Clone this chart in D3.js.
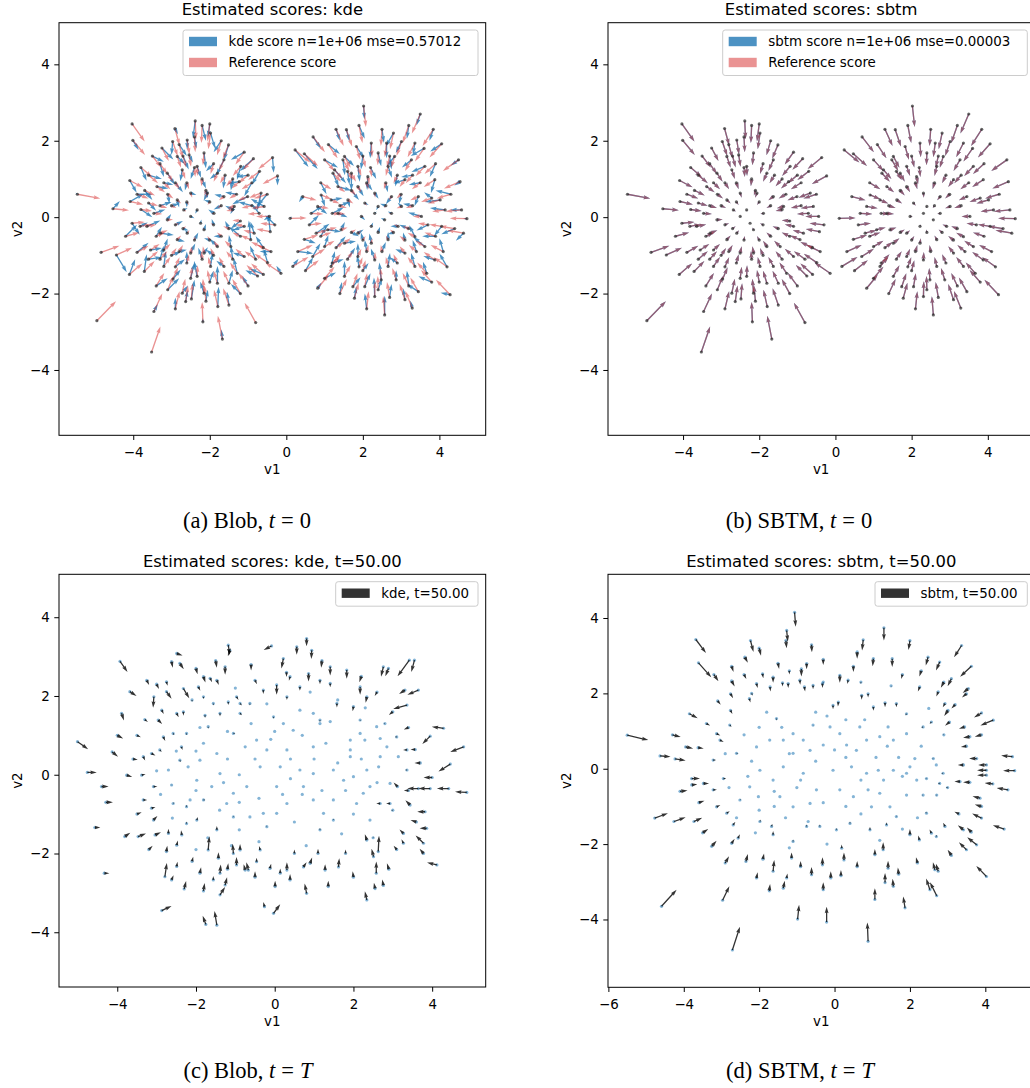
<!DOCTYPE html>
<html>
<head>
<meta charset="utf-8">
<script src="https://cdn.jsdelivr.net/npm/d3@7"></script>
<style>
  body { margin: 0; background: #fff; }
  svg { display: block; font-family: "DejaVu Sans", sans-serif; }
  .caption { font-family: "Liberation Serif", "Times New Roman", serif; font-size: 22.5px; }
</style>
</head>
<body>
<svg id="fig" width="1030" height="1088"></svg>
<script>
// ---- data ----
// t = 0 particles, two blobs. columns: x, y, reference score (u, v), kde score (u, v)
// scores are already in plotted units (quiver scale applied)
const blobLeft = [
  [-5.46,0.60,0.60,-0.11,-0.05,0.04],[-4.95,-2.71,0.50,0.51,0.02,0.02],[-3.52,-3.53,0.23,0.67,0.02,0.03],
  [-3.46,-2.47,0.22,0.47,0.10,0.20],[-2.18,-2.74,-0.02,0.52,0.0,0.10],[-1.67,-3.19,-0.12,0.61,-0.03,0.25],
  [-0.80,-2.76,-0.29,0.52,0.0,0.02],[-1.79,-2.34,-0.10,0.44,0.02,0.52],[-2.63,-2.21,0.06,0.42,0.05,0.30],
  [-2.48,-2.14,0.03,0.41,0.08,0.50],[-4.03,2.44,0.33,-0.46,0.05,-0.05],[-4.01,2.01,0.32,-0.38,0.15,-0.25],
  [-2.38,2.52,0.02,-0.48,-0.06,-0.45],[-2.00,2.44,-0.06,-0.46,-0.05,-0.35],[-2.91,2.32,0.12,-0.44,0.08,-0.15],
  [-1.51,1.89,-0.15,-0.36,-0.12,-0.40],[-0.36,1.56,-0.37,-0.30,0.03,-0.40],[-0.23,1.08,-0.39,-0.21,0.0,-0.25],
  [-0.86,1.53,-0.27,-0.29,-0.35,-0.32],[-4.09,0.96,0.34,-0.18,0.18,-0.32],[-4.53,0.22,0.42,-0.04,0.18,0.20],
  [-4.08,0.41,0.34,-0.08,0.35,0.20],[-4.84,-0.92,0.48,0.17,0.05,0.02],[-4.44,-0.99,0.41,0.19,0.27,-0.45],
  [-4.03,-0.16,0.33,0.03,0.20,-0.30],[-3.90,-0.92,0.30,0.17,0.30,0.25],[-3.71,-1.42,0.27,0.27,0.06,0.45],
  [-0.49,-1.19,-0.34,0.23,-0.10,0.35],[-0.14,-1.47,-0.41,0.28,-0.12,0.20],[-0.42,-0.38,-0.36,0.07,-0.05,0.45],
  [-0.75,-1.54,-0.29,0.29,-0.32,0.15],[-1.50,-1.73,-0.15,0.33,0.10,0.35],[-2.96,-1.62,0.13,0.31,0.20,0.25],
  [-3.25,1.81,0.18,-0.34,0.30,-0.30],[-2.97,1.98,0.13,-0.38,-0.03,-0.35],[-2.54,1.63,0.05,-0.31,0.10,-0.20],
  [-1.98,2.20,-0.06,-0.42,0.12,-0.40],[-1.23,0.93,-0.20,-0.18,-0.30,-0.05],[-0.66,0.63,-0.31,-0.12,-0.10,-0.45],
  [-0.71,0.10,-0.30,-0.02,-0.20,0.25],[-0.58,0.28,-0.33,-0.05,-0.35,0.20],[-0.44,0.02,-0.35,0.00,-0.15,-0.10],
  [-0.93,-0.59,-0.26,0.11,-0.05,0.50],[-1.10,-1.03,-0.23,0.20,-0.30,0.10],[-1.98,-1.29,-0.06,0.25,0.05,0.35],
  [-2.33,-1.55,0.01,0.29,-0.08,0.40],[-2.72,-1.99,0.08,0.38,0.15,0.20],[-3.20,-1.29,0.17,0.25,0.05,0.40],
  [-3.55,-0.86,0.24,0.16,0.30,0.05],[-3.64,-0.24,0.25,0.05,0.35,0.15],[-3.60,0.37,0.25,-0.07,0.20,-0.20],
  [-3.38,0.80,0.21,-0.15,0.30,-0.05],[-3.11,1.15,0.15,-0.22,0.20,-0.30],[-2.72,1.24,0.08,-0.24,-0.05,-0.30],
  [-2.33,1.33,0.01,-0.25,0.10,-0.30],[-1.80,1.15,-0.10,-0.22,-0.20,-0.15],[-1.63,0.54,-0.13,-0.10,-0.25,0.05],
  [-1.36,0.28,-0.18,-0.05,-0.10,-0.20],[-1.10,-0.24,-0.23,0.05,-0.30,-0.10],[-1.45,-0.77,-0.16,0.15,-0.05,0.30],
  [-2.15,-0.94,-0.03,0.18,0.10,0.15],[-2.85,-0.59,0.10,0.11,0.20,-0.05],[-3.11,-0.07,0.15,0.01,0.10,0.15],
  [-2.85,0.45,0.10,-0.09,0.05,-0.20],[-2.50,0.63,0.04,-0.12,0.15,-0.05],[-2.06,0.63,-0.05,-0.12,-0.10,-0.20],
  [-1.89,0.10,-0.08,-0.02,-0.15,0.10],[-2.15,-0.33,-0.03,0.06,0.05,0.15],[-2.59,-0.42,0.06,0.08,-0.05,0.10],
  [-2.50,0.02,0.04,0.00,0.10,-0.05],[-2.33,0.19,0.01,-0.04,-0.05,-0.10],[-2.68,0.19,0.07,-0.04,0.10,0.05],
  [-2.24,-0.16,-0.01,0.03,0.02,0.10],[-1.63,1.50,-0.13,-0.29,-0.20,-0.40],[-1.19,1.33,-0.21,-0.25,-0.10,-0.35],
  [-1.01,0.54,-0.25,-0.10,-0.40,-0.20],[-0.84,-0.42,-0.28,0.08,-0.10,0.30],[-1.63,-1.29,-0.13,0.25,-0.20,0.15],
  [-1.80,-1.73,-0.10,0.33,0.0,0.45],[-2.15,-1.99,-0.03,0.38,-0.10,0.30],[-3.29,-0.42,0.19,0.08,0.35,-0.05],
  [-3.46,0.10,0.22,-0.02,0.30,0.10],[-2.85,1.59,0.10,-0.30,0.20,-0.20],[-2.15,1.68,-0.03,-0.32,0.05,-0.40],
  [-2.59,2.02,0.06,-0.38,0.0,-0.25],[-3.82,-0.24,0.29,0.05,0.20,0.10],[-3.20,-0.86,0.17,0.16,0.10,0.30],
  [-2.50,-0.94,0.04,0.18,0.12,0.25],[-1.28,-1.47,-0.19,0.28,-0.10,0.40],[-1.80,-0.77,-0.10,0.15,-0.20,0.20],
  [-2.90,0.90,0.11,-0.17,0.20,-0.25],[-1.50,-0.30,-0.15,0.06,-0.10,0.20],[-3.00,-1.00,0.13,0.19,0.25,0.10],
  [-1.20,-0.50,-0.21,0.10,-0.30,0.25],[-2.70,1.60,0.08,-0.30,0.15,-0.35],[-1.40,1.00,-0.17,-0.19,-0.05,-0.30],
  [-3.40,-0.50,0.21,0.10,0.15,0.25],[-2.00,-1.70,-0.06,0.32,0.10,0.30],[-2.60,-1.20,0.06,0.23,0.0,0.30],
  [-3.60,1.10,0.25,-0.21,0.35,-0.10],[-0.90,0.90,-0.27,-0.17,-0.20,-0.35],[-1.10,1.70,-0.23,-0.32,-0.35,-0.20],
  [-3.30,1.40,0.19,-0.27,0.10,-0.35],[-2.20,-1.10,-0.02,0.21,-0.10,0.30],[-1.70,0.30,-0.11,-0.06,-0.20,-0.10],
  [-2.90,-0.20,0.11,0.04,0.20,0.10],[-0.60,-0.80,-0.32,0.15,-0.20,0.30],[-3.90,0.60,0.30,-0.11,0.40,0.0],
  [-2.40,2.10,0.02,-0.40,0.05,-0.30],[-1.00,-1.80,-0.25,0.34,-0.15,0.25],
  [-3.30,0.30,0.19,-0.06,0.30,0.10],[-3.10,0.60,0.15,-0.11,0.05,-0.25],[-2.80,1.90,0.10,-0.36,0.20,-0.30],
  [-2.20,1.00,-0.02,-0.19,0.10,-0.25],[-1.90,1.40,-0.08,-0.27,-0.20,-0.20],[-1.60,1.10,-0.13,-0.21,-0.05,-0.35],
  [-1.30,0.60,-0.19,-0.11,-0.30,0.05],[-1.20,-0.10,-0.21,0.02,-0.25,-0.20],[-1.40,-1.10,-0.17,0.21,-0.05,0.35],
  [-1.90,-1.00,-0.08,0.19,-0.20,0.15],[-2.40,-0.60,0.02,0.11,0.10,0.20],[-2.90,-1.30,0.11,0.25,0.25,0.20],
  [-3.30,-1.10,0.19,0.21,0.10,0.35],[-3.60,-1.10,0.25,0.21,0.35,0.05],[-3.80,0.20,0.29,-0.04,0.30,-0.20],
  [-3.20,0.90,0.17,-0.17,0.25,-0.05],[-2.00,0.40,-0.06,-0.08,-0.15,0.05],[-2.60,0.40,0.06,-0.08,0.0,-0.15],
  [-2.80,-0.90,0.10,0.17,0.20,0.05],[-2.10,-2.20,-0.04,0.42,0.05,0.30],[-2.90,-2.40,0.11,0.46,0.0,0.30],
  [-1.50,-2.30,-0.15,0.44,-0.05,0.35],[-1.20,-2.00,-0.21,0.38,-0.25,0.25],[-0.80,-1.10,-0.29,0.21,-0.15,0.35],
  [-0.40,-0.90,-0.36,0.17,-0.30,0.0],[-0.50,0.60,-0.34,-0.11,-0.25,-0.30],[-0.90,0.30,-0.27,-0.06,-0.35,0.10],
  [-0.70,1.20,-0.30,-0.23,-0.20,-0.35],[-1.70,2.00,-0.11,-0.38,-0.20,-0.30],[-2.20,2.40,-0.02,-0.46,0.10,-0.40],
  [-3.50,1.60,0.23,-0.30,0.30,-0.15],[-3.80,1.30,0.29,-0.25,0.15,-0.35],[-4.20,-0.50,0.36,0.10,0.30,0.30],
  [-4.10,-1.50,0.34,0.29,0.15,0.40],[-3.40,-1.80,0.21,0.34,0.30,0.20],[-2.50,-1.60,0.04,0.30,0.10,0.40],
  [-1.70,-0.50,-0.11,0.10,-0.20,0.0],[-1.90,-0.20,-0.08,0.04,-0.05,0.15],[-2.60,0.90,0.06,-0.17,-0.05,-0.20],
  [-3.00,0.30,0.13,-0.06,0.20,0.05],[-2.40,1.30,0.02,-0.25,-0.10,-0.30],[-1.00,1.10,-0.25,-0.21,-0.30,-0.05],
  [-0.30,-0.20,-0.38,0.04,-0.25,0.25],[-0.60,-1.50,-0.32,0.29,-0.35,0.15],[-3.10,-1.90,0.15,0.36,0.30,0.30],
  [-3.70,0.70,0.27,-0.13,0.20,-0.25],[-2.10,0.70,-0.04,-0.13,0.05,-0.20],[-1.40,0.20,-0.17,-0.04,-0.20,0.10],
  [-2.00,-0.60,-0.06,0.11,-0.15,0.05],[-2.70,-0.30,0.08,0.06,0.15,-0.05]
];
const blobRight = [
  [2.02,2.91,0.06,-0.55,0.02,-0.35],[1.57,2.29,0.15,-0.44,0.08,-0.30],[1.83,1.85,0.10,-0.35,0.20,-0.30],
  [3.84,2.30,-0.28,-0.44,-0.10,-0.30],[4.06,1.92,-0.32,-0.36,-0.30,-0.20],[4.54,0.93,-0.42,-0.18,-0.15,-0.10],
  [4.58,0.19,-0.42,-0.04,-0.30,0.0],[4.72,-0.04,-0.45,0.01,-0.10,0.0],[4.63,-0.42,-0.43,0.08,-0.20,-0.20],
  [4.10,-0.90,-0.33,0.17,-0.10,0.35],[4.28,-2.03,-0.37,0.39,-0.25,0.05],[3.29,-2.38,-0.18,0.45,-0.05,0.20],
  [2.57,-2.56,-0.04,0.49,0.0,0.50],[1.78,-2.12,0.11,0.40,0.05,0.30],[0.82,-1.86,0.29,0.35,0.10,0.15],
  [0.17,-1.29,0.41,0.25,0.15,0.20],[0.10,-0.03,0.43,0.01,0.05,0.05],[0.47,-0.58,0.36,0.11,0.30,-0.10],
  [0.69,-1.03,0.32,0.20,0.20,0.35],[0.23,1.76,0.40,-0.33,0.35,-0.45],[0.47,1.66,0.36,-0.32,0.35,-0.40],
  [0.91,0.58,0.27,-0.11,0.10,-0.30],[0.43,0.54,0.36,-0.10,-0.10,-0.15],[1.26,1.24,0.21,-0.24,0.30,-0.35],
  [3.36,1.94,-0.19,-0.37,-0.05,-0.30],[3.01,1.98,-0.13,-0.38,-0.15,-0.30],[2.62,1.94,-0.05,-0.37,0.0,-0.40],
  [2.22,1.94,0.02,-0.37,-0.03,-0.40],[1.48,1.50,0.17,-0.29,0.05,-0.40],[3.62,1.33,-0.24,-0.25,-0.35,-0.15],
  [3.88,0.98,-0.29,-0.19,-0.10,-0.35],[4.02,0.45,-0.32,-0.09,-0.40,-0.05],[4.06,-0.24,-0.32,0.05,-0.20,-0.25],
  [3.88,-1.12,-0.29,0.21,-0.30,0.10],[3.67,-1.47,-0.25,0.28,-0.10,0.30],[3.45,-1.95,-0.21,0.37,-0.30,0.20],
  [3.10,-2.16,-0.14,0.41,-0.05,0.30],[2.31,-2.08,0.01,0.40,-0.02,0.50],[2.05,-1.82,0.06,0.35,0.15,0.35],
  [1.52,-1.55,0.16,0.29,0.0,0.40],[1.17,-1.29,0.22,0.25,0.10,0.40],[0.78,-0.42,0.30,0.08,0.35,0.25],
  [0.65,0.10,0.32,-0.02,0.30,0.20],[0.82,0.28,0.29,-0.05,0.25,-0.20],[1.35,0.80,0.19,-0.15,0.35,-0.10],
  [1.70,1.15,0.12,-0.22,0.0,-0.45],[2.13,1.06,0.04,-0.20,-0.02,-0.35],[2.66,1.33,-0.06,-0.25,0.10,-0.30],
  [3.10,0.98,-0.14,-0.19,-0.30,-0.10],[3.45,0.54,-0.21,-0.10,-0.10,-0.25],[3.53,0.02,-0.22,0.00,-0.35,0.10],
  [3.36,-0.51,-0.19,0.10,-0.15,0.30],[3.10,-0.94,-0.14,0.18,-0.25,0.10],[2.66,-1.29,-0.06,0.25,0.05,0.35],
  [2.31,-1.12,0.01,0.21,-0.10,0.30],[1.87,-1.03,0.09,0.20,0.0,0.35],[1.52,-0.68,0.16,0.13,0.30,0.05],
  [1.43,-0.33,0.17,0.06,0.10,0.20],[1.35,0.10,0.19,-0.02,0.25,-0.10],[1.61,0.45,0.14,-0.09,0.05,-0.20],
  [1.87,0.80,0.09,-0.15,0.15,-0.25],[2.31,0.63,0.01,-0.12,0.10,-0.15],[2.75,0.54,-0.08,-0.10,-0.15,-0.20],
  [3.01,0.28,-0.13,-0.05,-0.10,0.10],[2.92,-0.24,-0.11,0.05,-0.20,0.0],[2.66,-0.59,-0.06,0.11,0.0,0.20],
  [2.22,-0.68,0.02,0.13,-0.05,0.25],[1.87,-0.42,0.09,0.08,0.15,0.10],[1.96,0.02,0.07,0.00,0.10,-0.10],
  [2.31,0.10,0.01,-0.02,0.05,0.05],[2.57,-0.07,-0.04,0.01,-0.10,0.05],[2.22,-0.24,0.02,0.05,0.05,0.10],
  [2.40,0.28,-0.01,-0.05,-0.05,-0.10],[2.75,0.10,-0.08,-0.02,-0.10,0.05],[2.05,0.37,0.06,-0.07,0.10,-0.05],
  [1.52,1.59,0.16,-0.30,0.25,-0.25],[1.22,1.15,0.21,-0.22,0.15,-0.35],[2.40,1.68,-0.01,-0.32,0.08,-0.35],
  [2.83,1.59,-0.09,-0.30,-0.20,-0.25],[1.00,-0.77,0.26,0.15,0.10,0.30],[1.08,-0.33,0.24,0.06,0.35,-0.05],
  [3.36,-1.29,-0.19,0.25,-0.10,0.35],[1.74,-1.82,0.12,0.35,0.20,0.25],[2.48,-1.64,-0.02,0.31,-0.05,0.45],
  [2.87,-1.64,-0.10,0.31,0.0,0.25],[3.62,-0.77,-0.24,0.15,-0.30,0.25],[4.15,0.19,-0.34,-0.04,-0.40,0.05],
  [3.27,1.50,-0.17,-0.29,-0.25,-0.20],[1.87,1.33,0.09,-0.25,0.05,-0.40],[1.17,0.45,0.22,-0.09,0.30,0.05],
  [1.60,-1.10,0.14,0.21,0.20,0.30],[2.90,1.10,-0.10,-0.21,-0.05,-0.30],[3.20,-0.30,-0.16,0.06,-0.25,0.10],
  [1.30,-0.80,0.20,0.15,0.25,0.30],[2.60,0.90,-0.05,-0.17,0.05,-0.25],[2.00,-1.40,0.07,0.27,0.15,0.20],
  [3.90,-0.50,-0.29,0.10,-0.35,0.0],[1.10,1.90,0.24,-0.36,0.30,-0.25],[2.10,-0.90,0.05,0.17,-0.05,0.30],
  [3.50,0.90,-0.22,-0.17,-0.30,-0.05],
  [1.40,0.30,0.18,-0.06,0.25,0.10],[1.70,0.70,0.12,-0.13,0.20,-0.25],[2.00,1.60,0.07,-0.30,-0.05,-0.35],
  [2.50,2.30,-0.03,-0.44,0.05,-0.35],[3.20,2.40,-0.16,-0.46,-0.05,-0.35],[3.60,1.80,-0.24,-0.34,-0.35,-0.20],
  [3.90,1.40,-0.29,-0.27,-0.15,-0.35],[4.30,0.60,-0.37,-0.11,-0.40,0.10],[4.40,-0.30,-0.39,0.06,-0.35,-0.15],
  [4.20,-1.30,-0.35,0.25,-0.20,0.35],[3.80,-1.70,-0.28,0.32,-0.35,0.15],[3.20,-1.80,-0.16,0.34,-0.05,0.40],
  [2.70,-2.10,-0.07,0.40,0.05,0.35],[2.10,-2.40,0.05,0.46,-0.05,0.40],[1.40,-2.00,0.18,0.38,0.05,0.30],
  [1.00,-1.60,0.26,0.30,0.30,0.15],[0.50,-1.40,0.35,0.27,0.20,0.35],[0.30,-0.90,0.39,0.17,0.40,-0.05],
  [0.60,-0.20,0.33,0.04,0.25,0.25],[0.90,0.90,0.28,-0.17,0.15,-0.30],[1.00,1.50,0.26,-0.29,0.35,-0.20],
  [0.70,2.10,0.31,-0.40,0.20,-0.30],[1.90,2.40,0.09,-0.46,0.15,-0.35],[2.80,2.20,-0.09,-0.42,-0.20,-0.35],
  [3.30,1.10,-0.18,-0.21,-0.30,-0.05],[3.00,0.60,-0.12,-0.11,-0.05,-0.25],[2.60,0.30,-0.05,-0.06,-0.15,0.05],
  [2.10,0.90,0.05,-0.17,0.15,-0.20],[1.60,1.20,0.14,-0.23,0.05,-0.35],[1.20,0.10,0.22,-0.02,0.30,0.15],
  [1.70,-0.40,0.12,0.08,0.20,-0.10],[2.00,-0.60,0.07,0.11,-0.05,0.20],[2.50,-0.90,-0.03,0.17,0.10,0.25],
  [2.90,-1.20,-0.10,0.23,-0.20,0.15],[3.40,-0.90,-0.20,0.17,-0.10,0.30],[3.70,-0.20,-0.26,0.04,-0.30,-0.15],
  [3.80,0.50,-0.28,-0.10,-0.20,0.15],[2.40,-1.90,-0.01,0.36,0.10,0.30],[1.90,-1.30,0.09,0.25,-0.05,0.30],
  [1.20,-1.20,0.22,0.23,0.30,0.10],[0.90,-0.50,0.28,0.10,0.15,0.25],[2.80,-0.40,-0.09,0.08,-0.15,-0.05],
  [3.10,-0.60,-0.14,0.11,-0.05,0.20],[3.30,0.30,-0.18,-0.06,-0.25,0.05],[2.20,1.30,0.03,-0.25,0.15,-0.30],
  [2.70,1.60,-0.07,-0.30,0.05,-0.35],[1.30,2.30,0.20,-0.44,0.10,-0.30],[4.50,1.50,-0.41,-0.29,-0.20,-0.15],
  [3.50,2.70,-0.22,-0.51,-0.10,-0.30],[2.40,-0.40,-0.01,0.08,0.05,0.15]
];
// t = 50 particles. columns: x, y, score (u, v)
const kdeT50 = [
  [-5.01,0.84,0.27,-0.19],[-4.76,0.06,0.24,0.0],[-4.57,-1.34,0.14,0.0],[-4.33,-2.50,0.13,0.0],[-4.29,-0.70,0.18,0.0],
  [-4.13,0.58,0.15,-0.12],[-3.93,2.88,0.19,-0.27],[-3.68,2.11,0.17,-0.11],[-3.89,1.56,0.06,-0.18],[-3.76,-0.01,0.14,-0.05],
  [-3.81,-1.57,0.14,0.10],[-3.47,-1.57,0.20,0.08],[-2.87,-3.45,0.25,0.12],[-2.49,3.08,0.15,-0.05],[-2.62,2.87,0.03,-0.15],
  [-3.25,2.40,0.06,-0.12],[-2.75,2.36,0.03,-0.10],[-2.32,2.19,0.15,-0.25],[-2.75,2.11,0.13,-0.18],[-3.07,1.98,-0.02,-0.28],
  [-2.41,2.83,0.10,-0.15],[-1.81,-2.95,0.03,0.20],[-1.47,-3.82,-0.06,0.36],[-1.75,-3.80,-0.08,0.22],[-1.39,-3.05,0.13,0.20],
  [-1.26,-2.80,0.05,0.20],[-0.03,-3.52,0.17,0.23],[-0.26,-3.35,-0.03,0.12],[-1.18,3.29,0.04,-0.25],[-1.14,3.16,-0.05,-0.15],
  [-0.08,3.27,-0.20,-0.10],[0.56,3.25,0.0,-0.20],[0.81,3.46,0.0,-0.20],[0.94,3.16,-0.01,-0.22],[0.22,2.95,-0.05,-0.25],
  [1.41,2.74,0.0,-0.22],[1.83,2.66,0.0,-0.22],[2.76,2.74,-0.06,-0.25],[2.89,2.70,-0.08,-0.20],[3.42,2.91,-0.30,-0.41],
  [3.55,2.91,-0.08,-0.30],[3.65,2.15,-0.28,-0.12],[3.31,2.15,-0.15,-0.10],[3.36,1.77,-0.35,-0.10],[4.29,1.18,-0.30,0.04],
  [3.95,0.98,-0.20,-0.20],[4.80,0.71,-0.34,-0.13],[4.46,0.27,-0.30,-0.19],[4.00,-0.07,-0.22,0.0],[4.88,-0.45,-0.30,0.02],
  [4.42,-0.35,-0.30,0.0],[3.95,-0.35,-0.30,0.0],[3.65,-0.35,-0.28,0.0],[3.82,-0.94,-0.20,0.0],[3.86,-1.36,-0.18,0.0],
  [3.78,-1.74,-0.20,0.20],[3.78,-2.00,-0.10,0.12],[4.12,-2.29,-0.25,0.06],[3.27,-1.74,-0.05,0.10],[3.27,-1.49,-0.10,0.10],
  [3.44,-0.77,-0.12,0.12],[3.12,-0.30,-0.10,0.10],[2.34,-3.18,-0.05,0.22],[2.55,-2.89,-0.03,0.15],[2.76,-2.81,-0.03,0.15],
  [2.58,-2.50,0.0,0.30],[2.51,-2.08,-0.05,0.20],[2.63,-1.95,0.02,0.40],[2.34,-1.66,-0.05,0.15],[1.62,-2.34,0.02,0.22],
  [1.36,-2.84,0.0,0.15],[0.81,-3.01,-0.05,0.25],[1.28,-2.42,0.0,0.15],[0.73,-2.34,0.08,0.12],[0.90,-2.25,0.05,0.15],
  [0.39,-2.67,0.0,0.15],[0.14,-2.50,0.0,0.12],[0.31,-2.42,0.0,0.20],[0.01,-2.84,0.0,0.15],[-0.12,-2.38,0.03,0.12],
  [-0.67,-2.42,-0.05,0.20],[-0.75,-2.42,-0.04,0.15],[-0.97,-2.29,0.0,0.20],[-0.88,-1.91,0.0,0.15],[-1.05,-2.00,-0.02,0.25],
  [-0.46,-2.21,0.0,0.10],[-0.37,-1.91,-0.03,0.10],[-1.43,-2.12,0.0,0.15],[-1.69,-1.91,0.03,0.35],[-1.90,-2.50,0.03,0.15],
  [-1.56,-2.67,0.0,0.10],[-1.39,-2.50,0.02,0.22],[-2.62,-2.67,0.05,0.12],[-2.79,-2.59,0.05,0.35],[-2.49,-2.33,0.02,0.12],
  [-2.75,-1.95,0.02,0.15],[-2.70,-1.49,0.0,0.12],[-2.36,-1.53,-0.02,0.12],[-2.49,-1.79,0.03,0.12],[-3.04,-1.53,0.15,0.07],
  [-3.08,-1.15,0.10,0.10],[-3.13,-0.85,0.10,0.03],[-3.08,-0.30,0.10,0.0],[-3.34,-0.64,0.10,0.0],[-3.38,-0.01,0.10,0.03],
  [-3.13,0.54,0.10,-0.05],[-3.34,0.46,0.05,-0.10],[-2.92,0.63,0.05,-0.05],[-2.83,0.96,0.05,-0.10],[-2.96,1.39,0.10,-0.10],
  [-2.87,1.64,0.05,-0.10],[-2.49,1.56,0.05,-0.10],[-2.24,1.05,0.0,-0.05],[-2.58,1.05,0.03,-0.05],[-2.37,0.71,0.03,-0.08],
  [-2.41,0.37,0.02,-0.05],[-2.70,0.12,0.0,0.0],[-2.62,-0.26,0.02,0.0],[-2.58,-0.73,0.03,0.03],[-2.24,-0.81,0.0,0.05],
  [-2.24,-1.24,0.0,0.05],[-1.98,-1.15,0.03,0.08],[-1.81,-0.64,0.05,0.0],[-1.98,-0.14,0.0,0.0],[-1.90,0.37,0.0,0.0],
  [-1.81,0.80,0.0,0.0],[-1.69,1.22,0.0,-0.05],[-1.77,1.51,0.0,-0.07],[-1.56,1.81,0.0,-0.05],[-1.81,1.98,0.0,-0.06],
  [-1.39,1.56,0.0,-0.08],[-1.05,1.05,0.05,0.0],[-0.88,1.56,0.05,-0.05],[-0.63,1.81,0.0,-0.05],[-0.97,1.98,0.05,-0.08],
  [-0.75,0.71,0.0,0.0],[-0.46,0.88,0.0,0.0],[-0.20,0.63,0.0,0.0],[-0.37,0.20,0.0,0.0],[-0.71,-0.30,0.0,0.0],
  [-1.05,-0.47,0.0,0.0],[-1.39,0.03,0.0,0.0],[-1.47,0.54,0.0,0.0],[-1.22,-0.73,0.0,0.0],[-1.05,-1.07,0.0,0.03],
  [-0.63,-1.07,0.0,0.0],[-0.29,-0.98,0.0,0.0],[-0.20,-1.32,0.0,0.03],[0.05,-0.98,0.0,0.0],[0.31,-0.73,0.0,0.0],
  [0.05,-0.30,0.0,0.0],[0.14,0.20,0.0,0.0],[0.31,0.63,0.0,0.0],[0.47,1.13,0.0,0.0],[0.22,1.30,0.0,0.0],
  [-0.03,1.47,0.0,-0.05],[0.31,1.98,0.0,-0.08],[0.64,1.64,0.0,0.0],[0.98,1.56,0.0,0.0],[1.15,1.30,0.0,0.0],
  [1.41,1.35,0.0,0.0],[0.98,0.71,0.0,0.0],[0.64,0.12,0.0,0.0],[0.98,0.03,0.0,0.0],[0.73,-0.30,0.0,0.0],
  [0.98,-0.64,0.0,0.0],[1.24,-0.98,0.0,0.0],[1.49,-1.15,0.0,0.03],[1.15,-1.40,0.0,0.05],[1.49,-0.64,0.0,0.0],
  [1.75,-0.14,0.0,0.0],[2.00,-0.05,0.0,0.0],[1.49,0.12,0.0,0.0],[1.92,0.63,0.0,0.0],[1.92,0.88,0.0,0.0],
  [2.17,1.05,0.0,0.0],[2.29,0.88,0.0,0.0],[2.17,1.39,0.0,-0.03],[2.59,1.22,0.0,0.0],[2.68,0.92,0.0,0.0],
  [2.85,0.71,0.0,0.0],[2.64,0.20,0.0,0.0],[2.34,0.12,0.0,0.0],[2.42,-0.30,0.0,0.0],[2.25,-0.47,0.0,0.0],
  [2.08,-0.73,0.0,0.0],[2.42,-1.15,0.0,0.0],[2.68,-0.73,-0.10,0.0],[2.93,-0.73,-0.10,0.0],[2.93,-0.22,0.0,0.0],
  [3.14,0.46,0.0,0.0],[3.36,0.63,-0.10,0.0],[3.57,0.64,-0.12,0.0],[3.10,0.96,-0.05,0.0],[2.68,0.46,0.0,0.0],
  [3.36,0.12,-0.05,0.0],[1.92,0.46,0.0,0.0],[2.17,2.23,0.0,-0.20],[2.34,1.98,-0.03,-0.15],[2.00,1.73,-0.02,-0.12],
  [1.58,1.81,0.0,-0.10],[1.15,1.39,0.0,-0.05],[1.41,2.32,0.0,-0.10],[1.15,2.40,0.0,-0.10],[0.86,2.57,0.0,-0.20],
  [0.64,2.23,0.0,-0.10],[0.39,2.49,-0.03,-0.10],[0.05,2.28,0.0,-0.25],[-0.29,2.15,0.0,-0.10],[-0.50,2.40,0.05,-0.10],
  [-0.88,1.81,0.05,-0.05],[-1.18,1.85,0.0,-0.08],[-1.26,2.74,0.0,-0.20],[-1.47,2.40,0.05,-0.12],[-1.64,2.45,0.05,-0.10],
  [-1.81,2.49,0.05,-0.15],[-1.94,2.23,0.05,-0.10],[-2.32,1.60,0.0,-0.10],[-2.15,-0.64,0.0,0.0],[-1.47,-1.40,0.0,0.10],
  [-3.50,1.00,0.10,-0.05],[-3.30,1.40,0.08,-0.06],[-3.00,2.30,0.06,-0.12],[-2.00,2.70,0.04,-0.15],[-1.50,2.90,0.03,-0.18],
  [-0.60,2.80,0.0,-0.15],[0.30,2.60,0.0,-0.12],[1.20,2.90,-0.02,-0.18],[2.20,2.50,-0.05,-0.15],[2.60,2.10,-0.06,-0.10],
  [3.00,1.60,-0.10,-0.08],[3.40,1.20,-0.12,-0.05],[3.70,0.30,-0.15,0.0],[3.40,-0.40,-0.12,0.0],[3.60,-1.20,-0.15,0.05],
  [3.10,-1.90,-0.08,0.10],[2.90,-2.40,-0.05,0.15],[2.00,-2.60,-0.02,0.15],[1.80,-2.00,0.0,0.10],[1.10,-2.00,0.0,0.12],
  [0.50,-2.00,0.0,0.10],[-0.50,-2.60,0.0,0.15],[-1.20,-2.40,0.02,0.15],[-2.10,-2.20,0.03,0.12],[-2.30,-2.90,0.05,0.20],
  [-3.20,-1.90,0.10,0.10],[-3.50,-1.00,0.12,0.05],[-3.60,0.40,0.12,-0.02],[-4.00,1.00,0.15,-0.08],[-4.40,-0.30,0.18,0.0],
  [-2.20,0.20,0,0],[-2.00,0.60,0,0],[-1.60,-0.30,0,0],[-1.20,0.40,0,0],[-0.90,0.00,0,0],[-0.50,0.40,0,0],
  [-0.10,0.90,0,0],[0.40,0.40,0,0],[0.70,-0.50,0,0],[0.20,-0.50,0,0],[-0.40,-0.60,0,0],[-0.90,-0.70,0,0],
  [-1.40,-0.90,0,0],[-1.70,-1.60,0,0],[-0.90,-1.40,0,0],[0.50,-1.20,0,0],[1.20,-0.40,0,0],[1.60,0.30,0,0],
  [1.30,0.80,0,0],[0.70,1.00,0,0],[0.00,1.10,0,0],[-0.60,1.30,0,0],[-1.20,1.10,0,0],[-1.90,1.20,0,0],
  [-2.50,0.60,0,0],[-2.00,-0.40,0,0],[-1.30,-0.20,0,0],[0.40,-0.10,0,0],[1.00,0.40,0,0],[1.80,-0.40,0,0],
  [2.20,0.40,0,0],[2.60,-0.20,0,0],[2.00,-1.00,0,0],[1.70,-1.50,0,0],[0.80,-1.80,0,0],[-0.40,-1.70,0,0],
  [-1.10,-1.80,0,0],[-2.00,-1.90,0,0],[-2.60,-1.10,0,0],[-2.90,-0.50,0,0],[-3.00,0.10,0,0],[2.30,1.70,0,0],
  [1.60,1.90,0,0],[0.90,2.10,0,0],[-0.20,1.80,0,0],[-1.00,2.20,0,0],[2.80,1.30,-0.03,0],[3.00,-0.90,-0.04,0],
  [2.50,-1.60,0,0.03],[-2.10,1.90,0,-0.05]
];
const sbtmT50 = [
  [-5.50,0.89,0.56,-0.13],[-4.59,-3.65,0.40,0.44],[-2.71,-4.81,0.20,0.62],[-2.97,-3.49,0.18,0.37],[-0.98,-3.99,0.04,0.38],
  [-0.21,-4.07,0.0,0.41],[0.89,-4.58,-0.02,0.50],[1.07,-3.47,0.0,0.30],[1.87,-3.69,-0.05,0.30],[2.71,-3.37,-0.18,0.36],
  [2.53,-3.21,-0.10,0.30],[4.03,-2.86,-0.27,0.28],[3.50,-2.15,-0.20,0.20],[3.77,-2.02,-0.25,0.20],[3.90,-1.31,-0.25,0.12],
  [4.60,-0.56,-0.30,0.05],[4.78,-0.05,-0.31,0.0],[4.72,0.32,-0.30,0.03],[4.21,1.29,-0.34,-0.14],[3.90,1.48,-0.20,-0.12],
  [3.63,2.72,-0.30,-0.28],[3.37,3.27,-0.20,-0.31],[3.55,2.13,-0.15,-0.12],[2.79,2.83,-0.10,-0.22],[2.48,2.96,-0.06,-0.22],
  [1.53,2.92,0.0,-0.22],[1.31,3.74,0.0,-0.34],[0.76,3.42,-0.03,-0.28],[0.50,2.72,0.0,-0.15],[1.03,2.92,-0.02,-0.20],
  [-1.06,4.15,0.03,-0.38],[-1.27,3.67,0.03,-0.30],[-1.29,3.40,0.02,-0.20],[-0.61,3.29,0.01,-0.20],[-2.23,3.40,0.08,-0.30],
  [-3.68,3.43,0.27,-0.36],[-3.61,2.81,0.34,-0.38],[-3.85,1.46,0.22,-0.12],[-3.95,0.58,0.20,-0.04],[-3.62,0.56,0.15,-0.02],
  [-4.63,0.34,0.28,-0.02],[-4.23,0.26,0.28,-0.04],[-4.77,-1.31,0.35,0.13],[-4.26,-1.40,0.31,0.11],[-3.73,-1.40,0.22,0.10],
  [-3.79,-0.26,0.22,0.0],[-3.79,-0.43,0.15,0.02],[-3.48,-0.39,0.15,0.0],[-3.26,-2.06,0.13,0.15],[-2.73,-1.98,0.08,0.12],
  [-2.35,-2.46,0.05,0.20],[-2.07,-2.90,0.03,0.15],[-1.73,-3.24,0.02,0.18],[-1.36,-3.17,0.04,0.20],[-1.27,-2.90,0.02,0.12],
  [-1.63,-2.72,0.03,0.30],[-1.14,-2.37,0.0,0.15],[-0.61,-2.81,0.0,0.20],[-0.30,-3.21,0.0,0.20],[-0.32,-2.55,0.0,0.20],
  [0.17,-2.84,0.0,0.15],[0.25,-2.42,0.0,0.20],[0.19,-2.11,0.0,0.10],[1.34,-3.02,0.0,0.25],[1.56,-3.12,-0.02,0.20],
  [1.42,-2.64,0.0,0.20],[1.07,-2.28,0.0,0.15],[1.29,-2.15,0.0,0.20],[2.75,-2.72,-0.06,0.20],[2.66,-2.68,-0.05,0.20],
  [2.25,-1.89,-0.03,0.12],[2.00,-1.75,0.0,0.15],[2.57,-1.71,-0.05,0.10],[2.93,-1.53,-0.05,0.10],[3.42,-1.62,-0.15,0.12],
  [3.63,-1.68,-0.12,0.12],[3.86,-0.78,-0.20,0.05],[3.59,-0.36,-0.18,0.0],[4.03,-0.17,-0.25,0.0],[4.03,-0.04,-0.25,0.0],
  [4.03,0.10,-0.22,0.0],[3.77,0.27,-0.20,0.0],[3.42,0.10,-0.15,0.0],[3.33,-0.34,-0.15,0.0],[3.50,0.60,-0.15,-0.02],
  [3.59,0.85,-0.18,-0.03],[3.45,1.11,-0.15,-0.05],[3.05,1.24,-0.12,-0.10],[3.01,1.55,-0.10,-0.15],[2.93,1.73,-0.06,-0.10],
  [2.57,1.24,-0.05,-0.05],[2.35,1.11,-0.05,-0.02],[2.26,2.17,-0.05,-0.12],[2.75,2.04,-0.05,-0.12],[3.10,2.39,-0.10,-0.20],
  [3.50,1.99,-0.12,-0.10],[1.91,1.46,-0.03,-0.05],[1.64,1.73,0.0,-0.10],[1.34,1.75,0.0,-0.12],[1.03,1.64,0.0,-0.10],
  [0.89,1.99,0.0,-0.10],[0.72,1.95,0.0,-0.12],[0.14,2.48,0.0,-0.20],[0.36,2.35,-0.02,-0.10],[-0.04,1.68,0.0,-0.10],
  [0.10,1.77,-0.01,-0.12],[-0.32,2.26,0.0,-0.12],[-0.57,2.21,0.0,-0.10],[-0.80,2.17,0.02,-0.12],[-0.92,2.35,0.01,-0.12],
  [-0.88,2.65,0.0,-0.20],[-0.74,2.79,0.0,-0.15],[-1.23,2.26,0.0,-0.12],[-1.38,2.28,0.0,-0.10],[-1.63,2.43,0.0,-0.15],
  [-1.71,2.17,0.01,-0.12],[-1.91,2.52,0.02,-0.12],[-2.07,2.26,0.03,-0.12],[-2.26,1.86,0.03,-0.10],[-2.38,2.96,0.08,-0.15],
  [-2.73,2.72,0.05,-0.15],[-2.73,2.33,0.08,-0.15],[-2.76,1.99,0.07,-0.12],[-2.76,1.55,0.05,-0.10],[-2.78,1.16,0.05,-0.05],
  [-3.13,0.93,0.10,-0.05],[-3.04,0.76,0.10,-0.05],[-3.22,0.23,0.08,0.0],[-2.95,-0.26,0.08,0.0],[-3.22,-0.56,0.10,0.0],
  [-3.13,-1.01,0.10,0.05],[-2.86,-1.18,0.08,0.05],[-2.69,-1.49,0.06,0.08],[-2.56,-1.84,0.05,0.10],[-1.98,-1.40,0.02,0.05],
  [-1.67,-1.53,0.02,0.07],[-1.63,-1.75,0.0,0.10],[-1.10,-1.93,0.0,0.05],[-0.74,-1.53,0.0,0.05],[-0.39,-1.53,0.0,0.05],
  [0.05,-1.62,0.0,0.05],[0.41,-1.45,0.0,0.05],[0.94,-1.62,0.0,0.08],[1.38,-1.49,0.0,0.07],[1.64,-1.27,0.0,0.03],
  [1.91,-0.70,0.0,0.0],[2.35,-0.70,-0.03,0.0],[2.71,-0.70,-0.03,0.0],[2.44,-0.26,-0.03,0.0],[2.62,0.27,-0.03,0.0],
  [2.13,0.27,0.0,0.0],[2.00,0.05,0.0,0.0],[1.56,-0.04,0.0,0.0],[1.16,-0.04,0.0,0.0],[0.85,-0.12,0.0,0.0],
  [0.89,-0.56,0.0,0.0],[1.20,-0.65,0.0,0.0],[1.47,-1.01,0.0,0.0],[0.98,-1.01,0.0,0.0],[0.50,-0.74,0.0,0.0],
  [0.14,-0.56,0.0,0.0],[-0.04,-0.04,0.0,0.0],[0.45,0.05,0.0,0.0],[0.58,0.49,0.0,0.0],[0.32,0.63,0.0,0.0],
  [0.14,0.93,0.0,0.0],[-0.12,1.11,0.0,0.0],[-0.30,0.63,0.0,0.0],[-0.65,0.49,0.0,0.0],[-0.83,0.76,0.0,0.0],
  [-1.10,0.93,0.0,0.0],[-1.10,0.41,0.0,0.0],[-1.36,0.05,0.0,0.0],[-1.63,-0.30,0.0,0.0],[-1.45,-0.74,0.0,0.0],
  [-1.10,-1.01,0.0,0.0],[-0.65,-0.92,0.0,0.0],[-0.48,-0.56,0.0,0.0],[-0.83,-0.12,0.0,0.0],[-1.98,-0.04,0.0,0.0],
  [-2.07,0.58,0.0,0.0],[-1.72,0.76,0.0,0.0],[-2.25,-0.48,0.0,0.0],[-2.51,-0.83,0.03,0.02],[-2.02,-0.74,0.0,0.0],
  [-1.54,1.33,0.0,-0.05],[-0.57,1.16,0.0,-0.02],[1.42,1.11,0.0,0.0],[1.20,0.85,0.0,0.0],[1.56,0.76,0.0,0.0],
  [1.91,0.93,0.0,0.0],[2.18,-0.30,0.0,0.0],[2.88,-0.12,-0.05,0.0],[2.79,-0.39,-0.05,0.0],[2.44,-1.18,-0.03,0.03],
  [1.91,-0.12,0.0,0.0],[0.85,0.76,0.0,0.0],[0.67,1.11,0.0,0.0],[-1.36,0.76,0.0,0.0],[-2.60,0.41,0.05,0.0],
  [-3.40,1.20,0.10,-0.05],[-3.10,1.80,0.08,-0.10],[-2.40,2.50,0.06,-0.12],[-1.50,2.80,0.03,-0.15],[-0.30,2.90,0.0,-0.15],
  [0.60,3.10,0.0,-0.18],[1.80,2.50,-0.03,-0.12],[2.30,2.60,-0.05,-0.15],[2.90,2.30,-0.08,-0.15],[3.20,1.70,-0.10,-0.10],
  [3.90,0.90,-0.18,-0.05],[4.20,-0.40,-0.22,0.02],[3.90,-1.00,-0.18,0.05],[3.30,-1.20,-0.12,0.06],[3.10,-2.30,-0.10,0.15],
  [2.20,-2.50,-0.04,0.15],[1.70,-2.80,-0.02,0.18],[0.60,-2.60,0.0,0.15],[-0.10,-2.90,0.0,0.18],[-0.90,-2.60,0.0,0.15],
  [-1.90,-2.40,0.03,0.15],[-2.90,-2.50,0.10,0.18],[-3.50,-1.70,0.15,0.10],[-3.60,-0.90,0.15,0.05],[-4.10,-0.60,0.20,0.02],
  [-4.30,0.90,0.22,-0.06],[-3.20,2.50,0.12,-0.18],[-2.00,3.20,0.05,-0.20],[2.00,3.40,-0.04,-0.25],[4.50,-1.60,-0.30,0.10],
  [-2.20,0.20,0,0],[-2.00,1.10,0,0],[-1.60,-0.60,0,0],[-1.20,0.40,0,0],[-0.90,-0.30,0,0],[-0.50,0.20,0,0],
  [-0.20,1.40,0,0],[0.30,0.30,0,0],[0.70,-0.30,0,0],[0.30,-1.00,0,0],[-0.30,-0.90,0,0],[-1.00,-0.50,0,0],
  [-1.30,-1.30,0,0],[-2.00,-1.10,0,0],[-1.60,-1.00,0,0],[0.70,-1.20,0,0],[1.30,-0.30,0,0],[1.70,0.30,0,0],
  [1.40,0.60,0,0],[0.80,1.30,0,0],[0.30,1.30,0,0],[-0.50,1.50,0,0],[-1.40,1.10,0,0],[-1.80,1.50,0,0],
  [-2.40,0.90,0,0],[-2.30,-0.20,0,0],[-0.70,-1.40,0,0],[0.00,0.50,0,0],[1.10,0.30,0,0],[1.80,-0.20,0,0],
  [2.30,0.60,0,0],[2.70,0.10,0,0],[2.20,-1.30,0,0],[1.80,-1.60,0,0],[1.20,-1.90,0,0],[-0.20,-2.00,0,0],
  [-1.20,-2.10,0,0],[-2.10,-1.70,0,0],[-2.60,-1.30,0,0],[-2.80,-0.50,0,0],[-2.90,0.40,0,0],[2.50,1.60,0,0],
  [1.50,2.20,0,-0.03],[0.70,2.30,0,-0.05],[-0.30,2.30,0,-0.03],[-1.20,2.60,0,-0.10],[2.90,0.90,-0.03,0],[3.00,-0.50,-0.05,0],
  [2.70,-1.80,0,0.05],[-2.20,2.00,0.03,-0.06]
];

const titles = ['Estimated scores: kde', 'Estimated scores: sbtm',
                'Estimated scores: kde, t=50.00', 'Estimated scores: sbtm, t=50.00'];
const legendT0Kde = ['kde score n=1e+06 mse=0.57012', 'Reference score'];
const legendT0Sbtm = ['sbtm score n=1e+06 mse=0.00003', 'Reference score'];
const legendT50 = ['kde, t=50.00', 'sbtm, t=50.00'];
const captions = [['(a) Blob, ', 't', ' = ', '0'], ['(b) SBTM, ', 't', ' = ', '0'],
                  ['(c) Blob, ', 't', ' = ', 'T'], ['(d) SBTM, ', 't', ' = ', 'T']];
const ticksMain = [-4, -2, 0, 2, 4];
const ticksWide = [-6, -4, -2, 0, 2, 4];

const BLUE = 'rgba(31,119,180,0.8)';
const RED = 'rgba(214,39,40,0.5)';
const DARK = 'rgba(0,0,0,0.8)';

const svg = d3.select('#fig');
const fmt = d => d < 0 ? '\u2212' + Math.abs(d) : String(d);

// quiver-style arrow polygon (matplotlib defaults: head 3w wide, 5w long)
function arrowD(sx, sy, ex, ey, w) {
  const dx = ex - sx, dy = ey - sy;
  const L = Math.hypot(dx, dy);
  if (L < 0.4) return null;
  const s = L < 5 * w ? L / (5 * w) : 1;
  const ww = w * s, hl = 5 * w * s, ha = 4.5 * w * s, hw = 3 * w * s;
  const a = Math.atan2(dy, dx), c = Math.cos(a), sn = Math.sin(a);
  const pts = [[0, -ww / 2], [L - ha, -ww / 2], [L - hl, -hw / 2], [L, 0], [L - hl, hw / 2], [L - ha, ww / 2], [0, ww / 2]];
  return 'M' + pts.map(([u, v]) => (sx + u * c - v * sn).toFixed(2) + ',' + (sy + u * sn + v * c).toFixed(2)).join('L') + 'Z';
}

function drawPanel(p, idx) {
  const x = d3.scaleLinear().domain(p.xDomain).range(p.xRange);
  const y = d3.scaleLinear().domain(p.yDomain).range(p.yRange);
  const g = svg.append('g');
  const [x0, x1] = p.xRange, [y1, y0] = p.yRange;

  g.append('clipPath').attr('id', 'clip' + idx)
    .append('rect').attr('x', x0).attr('y', y0).attr('width', x1 - x0).attr('height', y1 - y0);
  const plot = g.append('g').attr('clip-path', `url(#clip${idx})`);

  p.layers.forEach(layer => {
    if (layer.type === 'dots') {
      plot.append('g').selectAll('circle').data(layer.rows).join('circle')
        .attr('cx', d => x(d[0])).attr('cy', d => y(d[1]))
        .attr('r', layer.r).attr('fill', layer.color);
    } else {
      const pathOf = d => arrowD(x(d[0]), y(d[1]), x(d[0] + d[layer.u]), y(d[1] + d[layer.u + 1]), layer.w);
      plot.append('g').selectAll('path').data(layer.rows.filter(pathOf)).join('path')
        .attr('d', pathOf)
        .attr('fill', layer.color);
    }
  });

  // axes
  const xAxis = g.append('g').attr('transform', `translate(0,${y1})`)
    .call(d3.axisBottom(x).tickValues(p.xTicks).tickFormat(fmt).tickSize(4.7).tickSizeOuter(0));
  const yAxis = g.append('g').attr('transform', `translate(${x0},0)`)
    .call(d3.axisLeft(y).tickValues(ticksMain).tickFormat(fmt).tickSize(4.7).tickPadding(4.5).tickSizeOuter(0));
  [xAxis, yAxis].forEach(a => {
    a.select('.domain').remove();
    a.selectAll('line').attr('stroke', '#000').attr('stroke-width', 1);
    a.selectAll('text').attr('fill', '#000').style('font-size', '13.4px').style('font-family', '"DejaVu Sans", sans-serif');
  });
  xAxis.selectAll('text').attr('y', 21.5).attr('dy', null);

  g.append('rect').attr('x', x0).attr('y', y0).attr('width', x1 - x0).attr('height', y1 - y0)
    .attr('fill', 'none').attr('stroke', '#000').attr('stroke-width', 1);

  const cx = (x0 + x1) / 2;
  g.append('text').attr('x', cx).attr('y', p.titleY).attr('text-anchor', 'middle')
    .style('font-size', '16.4px').text(p.title);
  g.append('text').attr('x', cx).attr('y', y1 + 39).attr('text-anchor', 'middle')
    .style('font-size', '13.4px').text('v1');
  g.append('text').attr('transform', `translate(${x0 - 37},${(y0 + y1) / 2}) rotate(-90)`)
    .attr('text-anchor', 'middle').style('font-size', '13.4px').text('v2');

  // legend
  const L = p.legend;
  const lg = g.append('g');
  lg.append('rect').attr('x', L.x).attr('y', L.y).attr('width', L.w).attr('height', 24.5 + 21 * (L.items.length - 1))
    .attr('rx', 2.5).attr('fill', 'rgba(255,255,255,0.8)').attr('stroke', '#cccccc').attr('stroke-width', 1);
  L.items.forEach((it, i) => {
    const cy = L.y + 11.5 + 21 * i;
    lg.append('rect').attr('x', L.x + 6).attr('y', cy - 4.7).attr('width', 28).attr('height', 9.4).attr('fill', it.color);
    lg.append('text').attr('x', L.x + 45.5).attr('y', cy + 4.8).style('font-size', '13.4px').text(it.label);
  });

  // caption (math parts: italic variable, wider spacing round "=")
  const cap = svg.append('text').attr('class', 'caption').attr('x', p.capX).attr('y', p.capY).attr('text-anchor', 'middle');
  p.caption.forEach(part => {
    const t = cap.append('tspan').text(part.trim() === '=' ? '=' : part);
    if (part === 't' || part === 'T') t.style('font-style', 'italic');
    if (part.trim() === '=') t.attr('dx', 6);
    if (part === '0' || part === 'T') t.attr('dx', 6);
  });
}

const allT0 = blobLeft.concat(blobRight);
const panels = [
  {
    title: titles[0], titleY: 14.5, xDomain: [-5.94, 5.21], xRange: [59, 485.7], yDomain: [-5.71, 5.09], yRange: [435.3, 22.7],
    xTicks: ticksMain,
    layers: [
      { type: 'arrows', rows: allT0, u: 4, w: 1.35, color: BLUE },
      { type: 'arrows', rows: allT0, u: 2, w: 1.35, color: RED },
      { type: 'dots', rows: allT0, r: 1.6, color: 'rgba(40,40,40,0.7)' }
    ],
    legend: { x: 183, y: 30, w: 295, items: [{ label: legendT0Kde[0], color: BLUE }, { label: legendT0Kde[1], color: RED }] },
    caption: captions[0], capX: 247, capY: 528
  },
  {
    title: titles[1], titleY: 14.5, xDomain: [-5.97, 5.22], xRange: [608, 1034.3], yDomain: [-5.71, 5.09], yRange: [435.3, 22.7],
    xTicks: ticksMain,
    layers: [
      // sbtm score agrees with the reference to plotting precision (mse 3e-5)
      { type: 'arrows', rows: allT0, u: 2, w: 1.35, color: BLUE },
      { type: 'arrows', rows: allT0, u: 2, w: 1.35, color: RED },
      { type: 'dots', rows: allT0, r: 1.6, color: 'rgba(40,40,40,0.7)' }
    ],
    legend: { x: 722.7, y: 30, w: 304.6, items: [{ label: legendT0Sbtm[0], color: BLUE }, { label: legendT0Sbtm[1], color: RED }] },
    caption: captions[1], capX: 799, capY: 528
  },
  {
    title: titles[2], titleY: 566.5, xDomain: [-5.48, 5.36], xRange: [59, 485.7], yDomain: [-5.39, 5.09], yRange: [987, 574.3],
    xTicks: ticksMain,
    layers: [
      { type: 'dots', rows: kdeT50, r: 1.6, color: 'rgba(31,119,180,0.55)' },
      { type: 'arrows', rows: kdeT50, u: 2, w: 1.3, color: DARK }
    ],
    legend: { x: 335.7, y: 581.7, w: 142.3, items: [{ label: legendT50[0], color: DARK }] },
    caption: captions[2], capX: 248, capY: 1078
  },
  {
    title: titles[3], titleY: 566.5, xDomain: [-6.01, 5.31], xRange: [608, 1034.7], yDomain: [-5.8, 5.16], yRange: [987.3, 574.3],
    xTicks: ticksWide,
    layers: [
      { type: 'dots', rows: sbtmT50, r: 1.6, color: 'rgba(31,119,180,0.55)' },
      { type: 'arrows', rows: sbtmT50, u: 2, w: 1.3, color: DARK }
    ],
    legend: { x: 875, y: 581.7, w: 152.3, items: [{ label: legendT50[1], color: DARK }] },
    caption: captions[3], capX: 800, capY: 1078
  }
];

panels.forEach(drawPanel);
</script>
</body>
</html>
